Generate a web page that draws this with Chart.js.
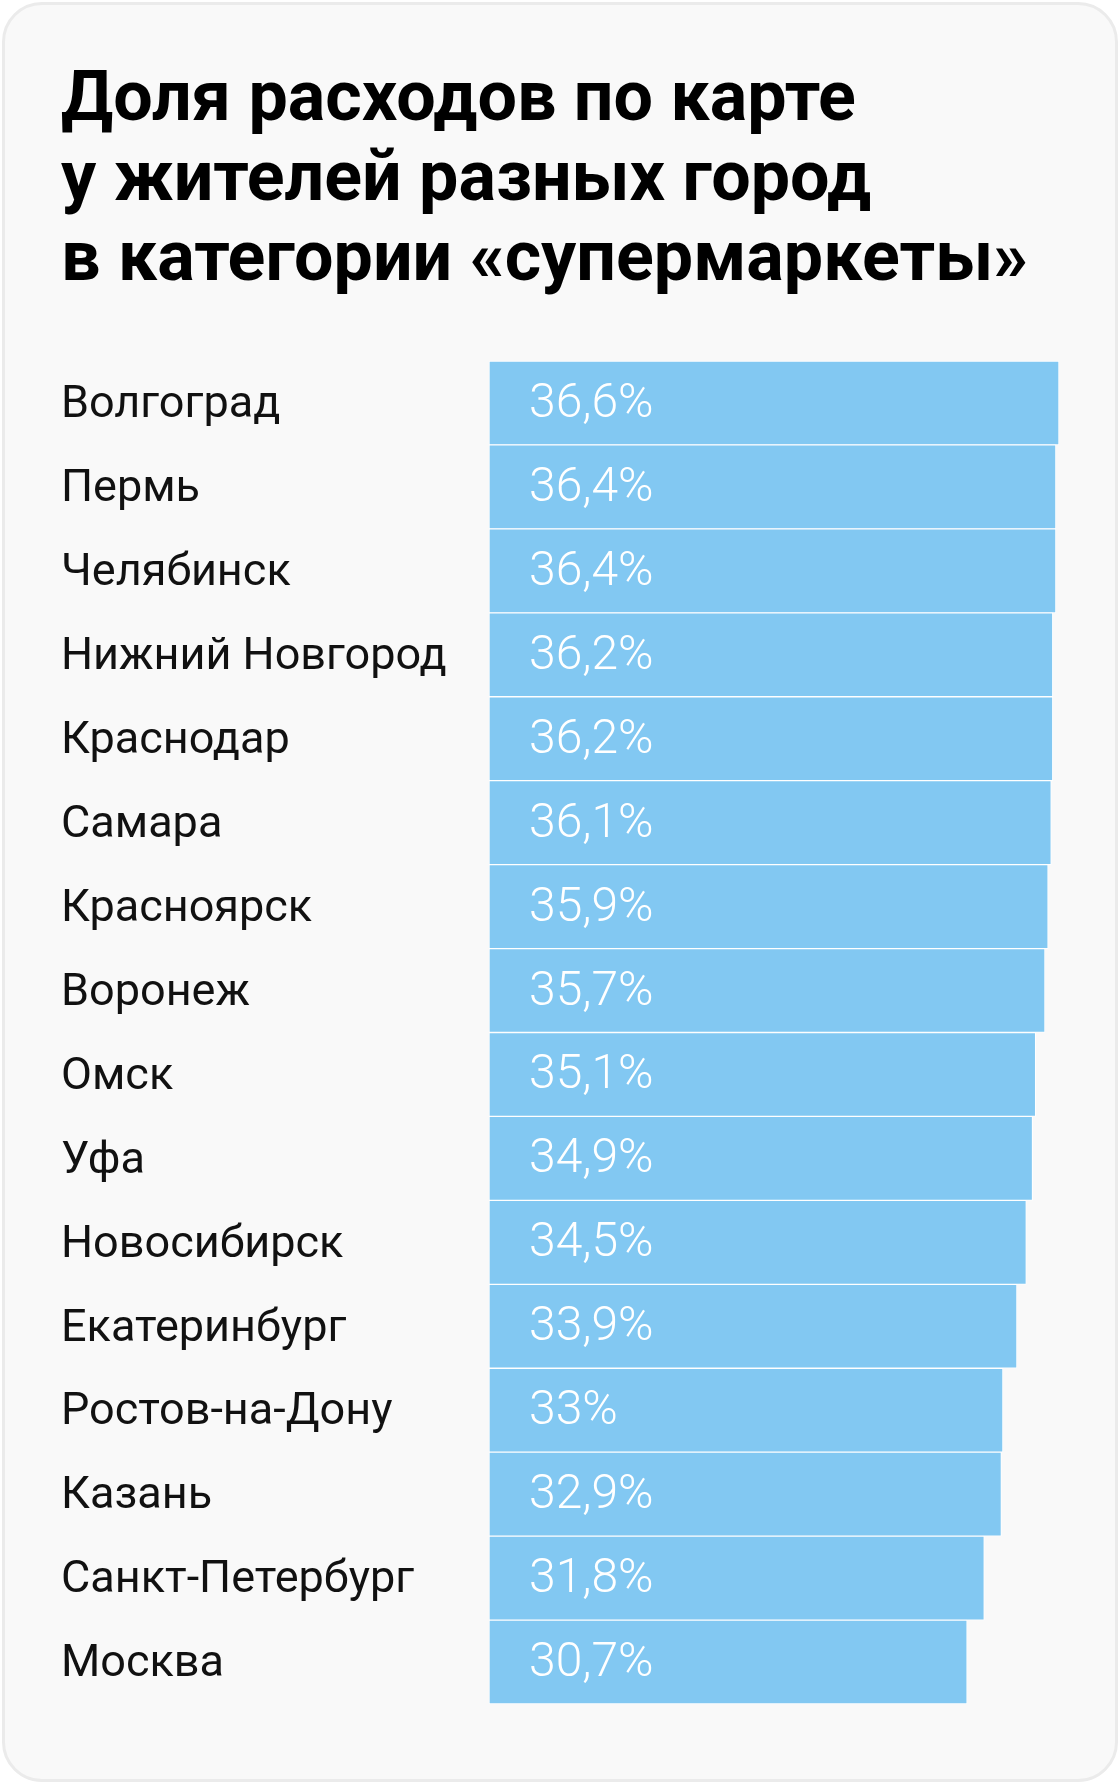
<!DOCTYPE html>
<html>
<head>
<meta charset="utf-8">
<script src="https://cdn.jsdelivr.net/npm/chart.js@4"></script>
<style>
  html, body { margin: 0; padding: 0; background: #fff; }
  body { width: 1120px; height: 1784px; position: relative; overflow: hidden; }
  .card {
    position: absolute; left: 2px; top: 2px; width: 1110px; height: 1774px;
    border: 3px solid #ebebeb; border-radius: 40px; background: #f9f9f9;
  }
  h1 {
    position: absolute; left: 61px; top: 56px; margin: 0;
    font-family: Roboto, sans-serif; font-weight: 700; font-size: 70px;
    line-height: 80px; color: #000; letter-spacing: 0;
  }
  canvas { position: absolute; left: 0; top: 0; }
</style>
</head>
<body>
<div class="card"></div>
<h1>Доля расходов по карте<br>у жителей разных город<br>в категории «супермаркеты»</h1>
<canvas id="chart" width="1120" height="1784"></canvas>
<script>
// данные
const cities = ['Волгоград', 'Пермь', 'Челябинск', 'Нижний Новгород', 'Краснодар', 'Самара',
  'Красноярск', 'Воронеж', 'Омск', 'Уфа', 'Новосибирск', 'Екатеринбург', 'Ростов-на-Дону',
  'Казань', 'Санкт-Петербург', 'Москва'];
const shares = [36.6, 36.4, 36.4, 36.2, 36.2, 36.1, 35.9, 35.7, 35.1, 34.9, 34.5, 33.9, 33, 32.9, 31.8, 30.7];

const fmt = v => String(v).replace('.', ',') + '%';

// подписи значений внутри столбцов
const valueLabels = {
  id: 'valueLabels',
  afterDatasetsDraw(chart) {
    const ctx = chart.ctx;
    const meta = chart.getDatasetMeta(0);
    ctx.save();
    ctx.fillStyle = '#fff';
    ctx.font = '300 48px Roboto';
    ctx.textAlign = 'left';
    ctx.textBaseline = 'middle';
    meta.data.forEach((bar, i) => {
      ctx.fillText(fmt(shares[i]), bar.base + 40, bar.y + 2);
    });
    ctx.restore();
  }
};

new Chart(document.getElementById('chart'), {
  type: 'bar',
  data: {
    labels: cities,
    datasets: [{
      data: shares,
      backgroundColor: '#82c8f2',
      borderColor: '#ffffff',
      borderWidth: 1,
      borderSkipped: false,
      barPercentage: 1,
      categoryPercentage: 1
    }]
  },
  options: {
    indexAxis: 'y',
    responsive: false,
    animation: false,
    layout: { padding: { left: 61, right: 61, top: 361, bottom: 80 } },
    plugins: { legend: { display: false }, tooltip: { enabled: false } },
    scales: {
      x: { display: false, min: 0, max: Math.max(...shares) },
      y: {
        grid: { display: false },
        border: { display: false },
        afterFit(scale) { scale.width = 428; },
        ticks: {
          crossAlign: 'far',
          padding: 0,
          labelOffset: 3,
          color: '#111',
          font: { family: 'Roboto', size: 45 }
        }
      }
    }
  },
  plugins: [valueLabels]
});
</script>
</body>
</html>
